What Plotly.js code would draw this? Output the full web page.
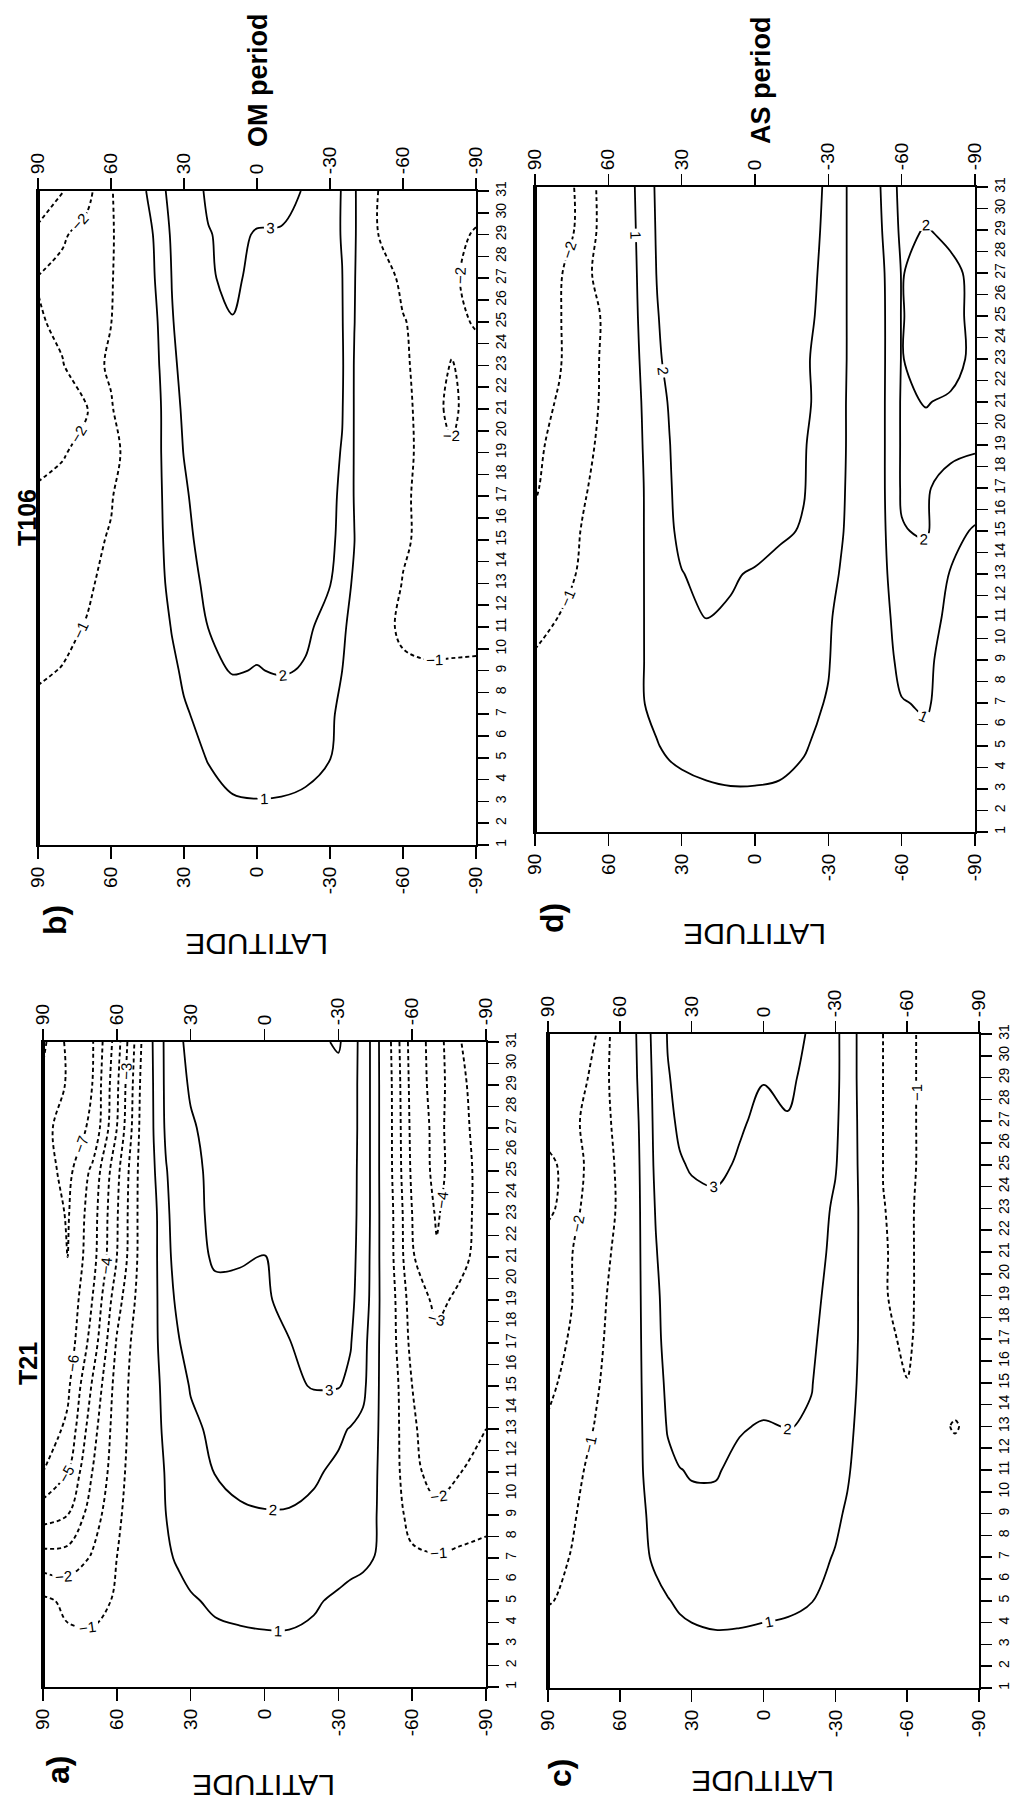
<!DOCTYPE html>
<html>
<head>
<meta charset="utf-8">
<script src="https://cdn.plot.ly/plotly-3.0.1.min.js"></script>
<style>html,body{margin:0;padding:0;background:#fff}#chart{width:1021px;height:1810px}</style>
</head>
<body>
<div id="chart"></div>
<script>
// ---------------- data ----------------
const lat = [90, 80, 70, 60, 50, 45, 40, 35, 30, 20, 10, 0, -10, -20, -30, -35, -40, -45, -50, -60, -70, -80, -90];
const days = [1, 3, 5, 7, 9, 11, 13, 15, 17, 19, 21, 23, 25, 27, 29, 31];
const latTicks = [90, 60, 30, 0, -30, -60, -90];
const latTickText = ['90', '60', '30', '0', '-30', '-60', '-90'];
const dayTicks = [1,2,3,4,5,6,7,8,9,10,11,12,13,14,15,16,17,18,19,20,21,22,23,24,25,26,27,28,29,30,31];

// a) T21, OM period  (rows = days, columns = lat)
const zT21_OM = [
 [-0.2,-0.3,-0.3,-0.2,-0.1,0.0,0.1,0.15,0.2,0.3,0.35,0.35,0.35,0.3,0.2,0.2,0.15,0.1,0.0,-0.2,-0.3,-0.3,-0.3],
 [-0.5,-0.8,-0.8,-0.6,-0.2,0.1,0.3,0.4,0.55,0.75,0.85,0.9,0.9,0.8,0.6,0.5,0.4,0.3,-0.1,-0.3,-0.4,-0.4,-0.4],
 [-0.8,-1.2,-1.3,-0.9,-0.3,0.1,0.4,0.6,0.9,1.15,1.2,1.2,1.2,1.1,0.85,0.7,0.6,0.4,-0.2,-0.5,-0.6,-0.6,-0.5],
 [-2.6,-2.6,-1.9,-1.0,-0.2,0.3,0.8,1.15,1.35,1.55,1.6,1.65,1.6,1.55,1.4,1.3,1.2,0.98,-0.2,-0.8,-0.9,-0.8,-0.7],
 [-4.4,-4.0,-2.5,-1.2,-0.2,0.4,1.0,1.3,1.55,1.8,1.9,1.95,1.95,1.85,1.65,1.55,1.45,1.15,-0.2,-1.4,-1.8,-1.5,-1.3],
 [-6.0,-5.0,-3.0,-1.4,-0.2,0.4,1.1,1.4,1.7,2.02,2.2,2.3,2.25,2.1,1.85,1.75,1.6,1.25,-0.2,-1.8,-2.3,-2.0,-1.8],
 [-6.6,-5.8,-3.4,-1.5,-0.3,0.5,1.3,1.6,1.85,2.15,2.35,2.5,2.55,2.45,2.15,1.95,1.85,1.4,-0.2,-1.9,-2.4,-2.2,-2.0],
 [-6.5,-6.2,-3.9,-1.6,-0.3,0.6,1.4,1.7,2.05,2.3,2.5,2.65,2.85,3.05,3.05,2.8,2.15,1.5,-0.2,-2.0,-2.5,-2.4,-2.2],
 [-6.5,-6.6,-4.6,-1.9,-0.3,0.7,1.6,1.95,2.3,2.55,2.7,2.8,2.98,3.2,3.25,3.05,2.2,1.6,-0.3,-2.3,-2.8,-2.6,-2.3],
 [-6.2,-6.8,-5.0,-2.4,-0.5,0.7,1.7,2.15,2.5,2.8,2.85,2.93,3.15,3.3,3.35,3.3,2.3,1.7,-0.3,-2.5,-3.2,-2.8,-2.5],
 [-6.0,-7.0,-5.4,-3.0,-0.6,0.7,1.8,2.3,2.7,3.1,3.05,2.98,3.2,3.35,3.4,3.45,2.35,1.7,-0.4,-2.9,-3.9,-3.2,-2.6],
 [-6.3,-7.1,-5.5,-3.1,-0.6,0.7,1.85,2.4,2.8,3.15,3.2,3.3,3.4,3.5,3.5,3.55,2.4,1.7,-0.4,-3.0,-4.1,-3.3,-2.6],
 [-6.6,-7.3,-5.8,-3.3,-0.6,0.9,1.95,2.5,2.8,3.2,3.3,3.4,3.5,3.55,3.6,3.6,2.4,1.7,-0.5,-3.2,-4.3,-3.4,-2.5],
 [-6.8,-7.3,-6.9,-4.0,-0.7,1.05,2.15,2.6,2.9,3.3,3.4,3.5,3.55,3.6,3.7,3.7,2.4,1.7,-0.5,-3.3,-4.3,-3.3,-2.4],
 [-6.2,-7.1,-7.0,-4.2,-0.8,1.1,2.2,2.7,3.1,3.4,3.5,3.55,3.6,3.7,3.85,3.7,2.4,1.7,-0.5,-3.4,-4.4,-3.2,-2.3],
 [-5.8,-7.2,-7.1,-4.5,-1.0,1.2,2.2,2.8,3.3,3.5,3.6,3.7,3.8,3.9,4.05,3.8,2.4,1.7,-0.6,-3.5,-4.4,-3.0,-2.2]
];

// b) T106, OM period
const zT106_OM = [
 [-0.1,-0.1,-0.1,-0.05,0.0,0.0,0.05,0.1,0.15,0.25,0.3,0.3,0.3,0.25,0.2,0.1,0.05,0.0,0.0,-0.05,-0.1,-0.1,-0.1],
 [-0.3,-0.3,-0.2,-0.15,-0.05,0.0,0.1,0.2,0.35,0.7,0.95,0.98,0.97,0.9,0.6,0.4,0.2,0.05,0.0,-0.15,-0.2,-0.2,-0.2],
 [-0.5,-0.5,-0.4,-0.3,-0.1,0.05,0.2,0.4,0.6,1.05,1.25,1.3,1.25,1.2,1.02,0.7,0.3,0.05,-0.1,-0.3,-0.4,-0.4,-0.4],
 [-0.8,-0.7,-0.6,-0.4,-0.1,0.1,0.3,0.6,0.9,1.3,1.5,1.5,1.5,1.4,1.1,0.85,0.4,0.1,-0.2,-0.5,-0.6,-0.6,-0.6],
 [-1.1,-0.97,-0.8,-0.5,-0.1,0.2,0.45,0.8,1.15,1.8,2.05,1.97,2.06,1.95,1.4,1.0,0.5,0.15,-0.3,-0.8,-0.9,-0.9,-0.9],
 [-1.5,-1.2,-0.95,-0.6,-0.1,0.25,0.55,1.05,1.4,2.01,2.2,2.2,2.15,2.1,1.8,1.2,0.6,0.2,-0.6,-1.2,-1.3,-1.25,-1.2],
 [-1.7,-1.4,-1.15,-0.7,0.0,0.35,0.7,1.35,1.7,2.15,2.35,2.4,2.35,2.25,2.02,1.6,0.8,0.3,-0.2,-1.05,-1.3,-1.3,-1.3],
 [-1.8,-1.6,-1.3,-0.9,0.0,0.4,0.8,1.5,1.8,2.3,2.5,2.5,2.45,2.4,2.15,1.8,1.02,0.35,-0.1,-0.85,-1.3,-1.4,-1.4],
 [-1.9,-1.8,-1.6,-1.1,0.0,0.45,0.85,1.6,1.9,2.4,2.55,2.55,2.5,2.45,2.2,1.85,0.95,0.35,-0.1,-0.8,-1.4,-1.6,-1.5],
 [-2.2,-2.05,-1.8,-1.6,-0.05,0.45,0.9,1.7,2.02,2.5,2.65,2.65,2.6,2.5,2.25,1.95,0.95,0.35,-0.1,-0.6,-1.5,-1.9,-1.4],
 [-2.5,-2.3,-2.05,-1.1,0.0,0.45,0.9,1.75,2.1,2.6,2.75,2.7,2.65,2.55,2.25,2.05,0.95,0.35,-0.1,-0.6,-1.6,-2.2,-1.5],
 [-2.4,-2.05,-1.4,-0.85,0.05,0.45,1.02,1.85,2.2,2.7,2.85,2.75,2.7,2.6,2.25,2.1,0.95,0.35,-0.2,-0.8,-1.5,-2.05,-1.6],
 [-2.1,-1.8,-1.5,-1.02,0.05,0.5,1.1,1.95,2.3,2.8,2.98,2.8,2.75,2.65,2.25,2.05,1.02,0.35,-0.3,-0.95,-1.3,-1.7,-2.1],
 [-1.95,-1.8,-1.5,-1.1,0.1,0.55,1.3,2.02,2.4,2.95,3.1,2.85,2.8,2.7,2.3,2.02,1.05,0.35,-0.5,-1.2,-1.4,-1.9,-2.2],
 [-2.9,-2.1,-1.7,-1.15,0.1,0.6,1.5,2.1,2.5,2.97,3.15,2.95,2.95,2.8,2.3,1.95,1.1,0.3,-1.02,-1.3,-1.4,-1.7,-2.1],
 [-3.3,-3.05,-2.3,-1.1,0.2,1.1,1.7,2.3,2.6,3.1,3.3,3.3,3.2,2.95,2.4,1.95,1.1,0.3,-1.05,-1.3,-1.4,-1.5,-1.5]
];

// c) T21, AS period
const zT21_AS = [
 [-0.2,-0.2,-0.15,-0.05,0.05,0.1,0.15,0.2,0.25,0.3,0.3,0.3,0.25,0.2,0.15,0.1,0.05,0.0,0.0,-0.05,-0.05,-0.05,-0.05],
 [-0.6,-0.5,-0.35,-0.15,0.2,0.35,0.5,0.65,0.75,0.85,0.85,0.8,0.75,0.65,0.45,0.35,0.2,0.05,0.0,-0.1,-0.1,-0.1,-0.1],
 [-1.05,-0.85,-0.6,-0.25,0.4,0.7,0.95,1.15,1.25,1.3,1.25,1.2,1.15,1.02,0.75,0.55,0.35,0.1,-0.05,-0.15,-0.15,-0.15,-0.15],
 [-1.15,-0.98,-0.7,-0.3,0.8,1.2,1.5,1.6,1.65,1.65,1.55,1.45,1.35,1.25,0.95,0.75,0.5,0.15,-0.1,-0.2,-0.2,-0.2,-0.2],
 [-1.3,-1.05,-0.8,-0.35,0.9,1.4,1.7,1.8,1.85,1.85,1.7,1.55,1.5,1.4,1.15,0.9,0.6,0.2,-0.1,-0.3,-0.3,-0.3,-0.3],
 [-1.6,-1.15,-0.85,-0.4,1.05,1.5,1.85,1.98,2.05,2.05,1.85,1.7,1.7,1.6,1.4,1.1,0.7,0.2,-0.2,-0.4,-0.4,-0.5,-0.4],
 [-1.95,-1.5,-0.95,-0.45,1.1,1.6,2.05,2.3,2.4,2.4,2.05,1.95,2.02,1.95,1.6,1.25,0.8,0.2,-0.3,-0.6,-0.6,-1.1,-0.5],
 [-2.1,-1.85,-1.1,-0.5,1.15,1.7,2.15,2.4,2.5,2.55,2.45,2.3,2.15,2.02,1.7,1.35,0.9,0.2,-0.6,-0.98,-0.5,-0.4,-0.4],
 [-2.2,-1.95,-1.2,-0.6,1.2,1.8,2.25,2.5,2.6,2.65,2.55,2.4,2.25,2.08,1.75,1.4,0.95,0.2,-0.8,-1.15,-0.5,-0.4,-0.4],
 [-2.25,-2.02,-1.25,-0.7,1.25,1.85,2.3,2.55,2.65,2.7,2.65,2.5,2.35,2.15,1.8,1.45,0.95,0.2,-0.95,-1.2,-0.5,-0.4,-0.4],
 [-2.3,-2.02,-1.35,-0.8,1.3,1.95,2.4,2.65,2.75,2.8,2.75,2.6,2.45,2.25,1.85,1.5,0.95,0.2,-0.95,-1.2,-0.5,-0.4,-0.4],
 [-3.3,-2.3,-1.45,-0.9,1.35,2.05,2.5,2.75,2.85,2.9,2.85,2.7,2.55,2.35,1.9,1.55,0.95,0.2,-0.98,-1.2,-0.5,-0.4,-0.4],
 [-3.3,-2.5,-1.5,-0.85,1.4,2.15,2.7,2.95,3.05,3.1,2.95,2.8,2.7,2.55,2.05,1.6,0.9,0.2,-1.02,-1.3,-0.5,-0.4,-0.4],
 [-2.4,-2.2,-1.6,-0.65,1.45,2.2,2.85,3.1,3.2,3.2,3.05,2.9,2.97,2.8,2.1,1.7,0.85,0.2,-1.02,-1.3,-0.5,-0.4,-0.4],
 [-2.5,-2.3,-1.85,-0.3,1.5,2.25,2.95,3.2,3.3,3.3,3.2,3.02,3.1,2.85,2.15,1.7,0.8,0.2,-1.02,-1.3,-0.5,-0.4,-0.4],
 [-2.6,-2.4,-2.02,-0.3,1.6,2.3,3.05,3.3,3.4,3.4,3.35,3.25,3.15,2.95,2.15,1.7,0.8,0.2,-1.02,-1.3,-0.5,-0.4,-0.4]
];

// d) T106, AS period
const zT106_AS = [
 [-0.1,-0.1,-0.1,-0.05,0.0,0.1,0.15,0.2,0.25,0.3,0.35,0.35,0.3,0.3,0.2,0.1,0.05,0.0,0.0,0.1,0.1,0.05,0.0],
 [-0.2,-0.2,-0.15,-0.1,0.1,0.3,0.45,0.6,0.75,0.9,0.97,0.97,0.95,0.85,0.5,0.3,0.2,0.05,0.1,0.4,0.4,0.2,0.1],
 [-0.4,-0.35,-0.3,-0.15,0.2,0.6,0.95,1.2,1.3,1.4,1.4,1.35,1.2,1.05,0.8,0.5,0.3,0.1,0.2,0.8,0.8,0.4,0.2],
 [-0.6,-0.5,-0.4,-0.2,0.3,1.02,1.3,1.5,1.55,1.6,1.6,1.5,1.4,1.2,0.95,0.6,0.35,0.1,0.2,0.95,1.1,0.6,0.3],
 [-0.9,-0.8,-0.6,-0.3,0.35,1.05,1.35,1.6,1.7,1.8,1.8,1.6,1.5,1.35,1.05,0.7,0.4,0.15,0.3,1.3,1.15,0.7,0.4],
 [-1.3,-0.98,-0.7,-0.35,0.4,1.05,1.4,1.7,1.9,2.01,1.95,1.7,1.6,1.5,1.1,0.8,0.5,0.2,0.4,1.5,1.35,0.8,0.5],
 [-1.7,-1.3,-0.85,-0.4,0.45,1.05,1.5,1.8,1.98,2.15,2.05,1.95,1.8,1.7,1.3,0.95,0.6,0.25,0.5,1.7,1.6,0.95,0.6],
 [-1.9,-1.6,-0.9,-0.45,0.5,1.05,1.6,1.9,2.15,2.3,2.35,2.25,2.1,1.95,1.5,1.1,0.7,0.3,0.5,1.95,2.1,1.3,0.9],
 [-2.05,-1.75,-1.1,-0.5,0.55,1.05,1.65,1.95,2.2,2.4,2.45,2.4,2.2,2.03,1.55,1.15,0.75,0.3,0.5,2.1,2.05,1.8,1.6],
 [-2.1,-1.85,-1.35,-0.55,0.6,1.1,1.7,1.98,2.3,2.45,2.5,2.45,2.25,2.05,1.6,1.2,0.75,0.3,0.5,2.1,2.2,2.15,2.1],
 [-2.2,-1.95,-1.6,-0.6,0.65,1.15,1.75,2.05,2.4,2.55,2.6,2.55,2.35,2.15,1.65,1.2,0.75,0.3,0.5,2.1,1.97,2.1,2.3],
 [-2.3,-2.05,-1.5,-0.7,0.7,1.25,1.85,2.25,2.5,2.6,2.65,2.6,2.4,2.1,1.7,1.25,0.75,0.3,0.5,2.05,1.5,1.7,2.2],
 [-2.3,-2.05,-1.4,-0.8,0.75,1.35,1.95,2.35,2.55,2.65,2.7,2.65,2.45,2.2,1.75,1.3,0.7,0.3,0.5,2.05,1.6,1.75,2.2],
 [-2.3,-2.1,-1.3,-0.4,0.8,1.4,2.05,2.4,2.6,2.7,2.75,2.7,2.5,2.25,1.8,1.3,0.7,0.3,0.55,2.05,1.6,1.8,2.2],
 [-2.6,-2.3,-1.8,-0.25,0.85,1.45,2.1,2.45,2.65,2.75,2.8,2.75,2.55,2.3,1.85,1.3,0.7,0.35,0.7,2.2,1.95,2.2,2.3],
 [-2.6,-2.3,-1.8,-0.2,0.9,1.5,2.15,2.5,2.7,2.8,2.85,2.8,2.6,2.3,1.9,1.3,0.7,0.4,0.8,2.3,2.3,2.3,2.2]
];

const panelLabels = ['a)', 'b)', 'c)', 'd)'];
const modelTitles = ['T21', 'T106'];
const periodTitles = ['OM period', 'AS period'];

// ---------------- layout helpers ----------------
const W = 1021, H = 1810;
const FONT = '"Liberation Sans Narrow", "Arial Narrow", "Liberation Sans", Arial, sans-serif';
function px(x) { return x / W; }
function py(y) { return 1 - y / H; }

// panel boxes in page pixels: [left, right, top, bottom]
const panels = [
  { z: zT21_OM,  box: [43, 486, 1042, 1687] },  // a
  { z: zT106_OM, box: [38, 476, 191, 845] },    // b
  { z: zT21_AS,  box: [548, 979, 1034, 1688] }, // c
  { z: zT106_AS, box: [535, 975, 187, 832] }    // d
];

const data = [];
const layout = {
  width: W, height: H,
  margin: { l: 0, r: 0, t: 0, b: 0 },
  paper_bgcolor: '#fff', plot_bgcolor: '#fff',
  showlegend: false,
  font: { family: FONT, color: '#000' },
  annotations: [],
  shapes: []
};

const black = [[0, '#000'], [1, '#000']];

panels.forEach((p, i) => {
  const n = i + 1, top = i + 5;
  const xa = 'x' + n, ya = 'y' + n, xt = 'x' + top;
  const [l, r, t, b] = p.box;
  const common = {
    range: [90, -90], tickmode: 'array', tickvals: latTicks, ticktext: latTickText,
    tickangle: -90, ticks: 'outside', ticklen: 12, tickwidth: 1.6, tickcolor: '#000',
    showgrid: false, zeroline: false, tickfont: { size: 19, family: FONT, color: '#000' }
  };
  layout['xaxis' + n] = Object.assign({}, common, {
    domain: [px(l), px(r)], anchor: ya, side: 'bottom',
    showline: true, linewidth: 2.2, linecolor: '#000', mirror: true
  });
  layout['xaxis' + top] = Object.assign({}, common, {
    overlaying: xa, anchor: ya, side: 'top', showline: false
  });
  layout['yaxis' + n] = {
    domain: [py(b), py(t)], anchor: xa, side: 'right', range: [1, 31],
    tickmode: 'array', tickvals: dayTicks, ticktext: dayTicks.map(String),
    tickangle: -90, ticks: 'outside', ticklen: 11, tickwidth: 1.6, tickcolor: '#000',
    showline: true, linewidth: 2.2, linecolor: '#000', mirror: true,
    showgrid: false, zeroline: false, tickfont: { size: 14, family: FONT, color: '#000' }
  };
  // heavier line along the 90N edge, as in the original frame
  layout.shapes.push({ type: 'line', xref: xa, yref: ya, x0: 90, x1: 90, y0: 1, y1: 31,
    line: { color: '#000', width: 4 } });

  // positive contours (solid)
  data.push({
    type: 'contour', x: lat, y: days, z: p.z, xaxis: xa, yaxis: ya,
    autocontour: false, contours: { coloring: 'lines', start: 1, end: 4, size: 1, showlabels: true,
      labelfont: { size: 15, family: FONT, color: '#000' } },
    colorscale: black, showscale: false, line: { width: 1.8, smoothing: 1 }, hoverinfo: 'skip'
  });
  // negative contours (dashed)
  data.push({
    type: 'contour', x: lat, y: days, z: p.z, xaxis: xa, yaxis: ya,
    autocontour: false, contours: { coloring: 'lines', start: -7, end: -1, size: 1, showlabels: true,
      labelfont: { size: 15, family: FONT, color: '#000' } },
    colorscale: black, showscale: false, line: { width: 1.9, smoothing: 1, dash: '4px,3px' }, hoverinfo: 'skip'
  });
  // invisible trace so the top latitude axis is drawn
  data.push({ type: 'scatter', x: [0], y: [16], xaxis: xt, yaxis: ya, mode: 'markers',
    marker: { opacity: 0 }, hoverinfo: 'skip', showlegend: false });
});

function ann(text, x, y, size, angle, bold) {
  layout.annotations.push({
    text: bold ? '<b>' + text + '</b>' : text, xref: 'paper', yref: 'paper',
    x: px(x), y: py(y), xanchor: 'center', yanchor: 'middle', showarrow: false,
    textangle: angle, font: { size: size, family: FONT, color: '#000' }
  });
}

// column titles (models) and row titles (periods)
ann(modelTitles[1], 27, 518, 25, -90, true);
ann(modelTitles[0], 28, 1364, 25, -90, true);
ann(periodTitles[0], 258, 80, 27, -90, true);
ann(periodTitles[1], 761, 80, 27, -90, true);

// panel letters
ann(panelLabels[0], 58, 1770, 32, -90, true);
ann(panelLabels[1], 55, 920, 32, -90, true);
ann(panelLabels[2], 560, 1773, 32, -90, true);
ann(panelLabels[3], 552, 918, 32, -90, true);

// LATITUDE titles (upside down)
ann('LATITUDE', 257, 945, 30, 180, false);
ann('LATITUDE', 755, 934, 30, 180, false);
ann('LATITUDE', 264, 1786, 30, 180, false);
ann('LATITUDE', 763, 1782, 30, 180, false);

Plotly.newPlot('chart', data, layout, { staticPlot: true, displayModeBar: false });
</script>
</body>
</html>
